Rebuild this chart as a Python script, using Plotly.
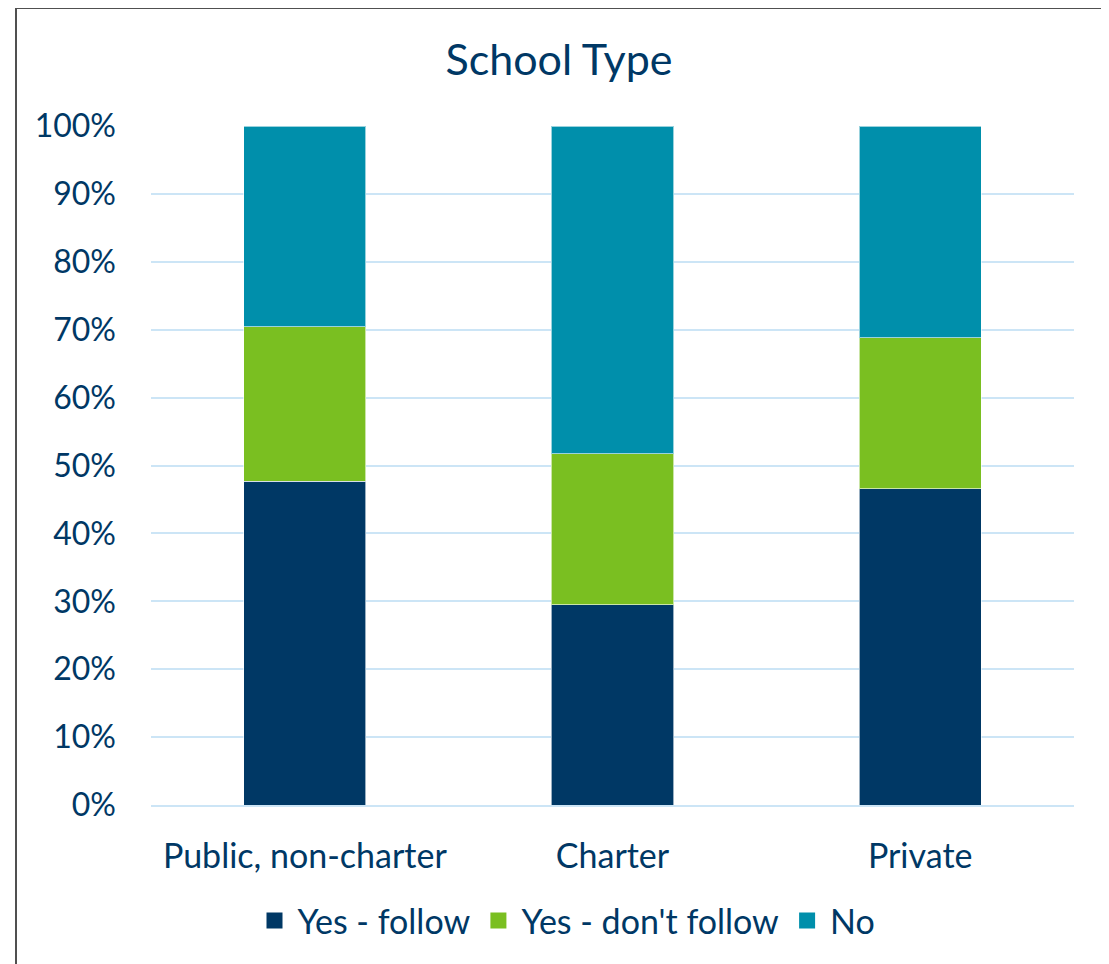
import plotly.graph_objects as go

categories = ["Public, non-charter", "Charter", "Private"]
yes_follow = [47.7, 29.5, 46.6]
yes_dont_follow = [22.7, 22.2, 22.2]
no = [29.6, 48.3, 31.2]

series_names = ["Yes - follow", "Yes - don't follow", "No"]
series_values = [yes_follow, yes_dont_follow, no]
colors = ["#003865", "#7ABF21", "#008FAB"]

tick_vals = [0, 10, 20, 30, 40, 50, 60, 70, 80, 90, 100]
tick_text = [f"{v}%" for v in tick_vals]

FONT = "Lato, Calibri, sans-serif"
TXT = "#003865"

# page body has an 8px margin; figure is laid out relative to that offset
W, H = 1101, 956
L, T = 143, 118
PW, PH = 923, 679

fig = go.Figure()
for name, vals, c in zip(series_names, series_values, colors):
    fig.add_trace(go.Bar(
        x=categories, y=vals, name=name, showlegend=False,
        marker=dict(color=c, line=dict(color="rgba(255,255,255,0.6)", width=1)),
        width=0.397,
    ))
# legend entries with larger square swatches
for name, c in zip(series_names, colors):
    fig.add_trace(go.Scatter(
        x=[None], y=[None], mode="markers", name=name,
        marker=dict(symbol="square", size=20, color=c),
    ))

fig.update_layout(
    width=W, height=H,
    barmode="stack",
    paper_bgcolor="white", plot_bgcolor="white",
    margin=dict(l=L, r=W - L - PW, t=T, b=H - T - PH, autoexpand=False),
    font=dict(family=FONT, color=TXT, size=33),
    title=dict(text="School Type", x=(559 - 8) / W, xref="container", xanchor="center",
               y=1 - (60 - 8) / H, yref="container", yanchor="middle",
               font=dict(size=43, color=TXT, family=FONT)),
    showlegend=True,
    legend=dict(orientation="h", x=(566 - 151) / PW, xanchor="center",
                y=(805 - 921) / PH, yanchor="middle",
                font=dict(size=34, color=TXT), traceorder="normal",
                itemsizing="trace", itemclick=False, itemwidth=36),
    bargap=0.603,
)
fig.update_yaxes(range=[0, 100], tickvals=tick_vals, ticktext=tick_text,
                 showgrid=True, gridcolor="#CCE5F6", gridwidth=2,
                 zeroline=False, showline=False, ticklabelstandoff=34,
                 automargin=False, tickfont=dict(size=32, color=TXT))
fig.update_xaxes(showline=True, linecolor="#CCE5F6", linewidth=2,
                 ticklabelstandoff=20, automargin=False,
                 tickfont=dict(size=34, color=TXT))

fig.add_shape(type="rect", xref="paper", yref="paper",
              x0=(16 - 151) / PW, x1=(1103 - 151) / PW,
              y0=(805 - 975) / PH, y1=(805 - 8) / PH,
              line=dict(color="#505050", width=2), fillcolor="rgba(0,0,0,0)",
              layer="below")

fig.write_html("out.html")
